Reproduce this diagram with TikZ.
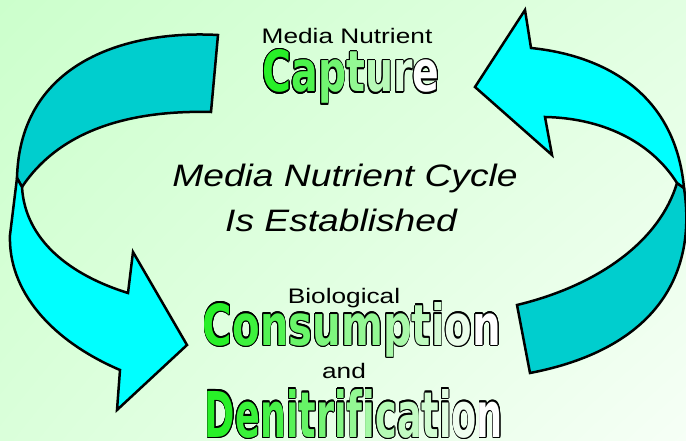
\documentclass[tikz,border=0pt]{standalone}
\usepackage{fontspec}
\setmainfont{Liberation Sans}
\newfontfamily\wordfont{DejaVu Sans}
\usepackage{graphicx}
\usepackage[copies]{contour}
\usetikzlibrary{shadings}
\contourlength{1.3pt}

\definecolor{ribbonlight}{RGB}{0,255,255}
\definecolor{ribbondark}{RGB}{0,206,206}
\definecolor{wordgreen}{RGB}{40,240,40}
\definecolor{bgTL}{RGB}{204,255,204}
\definecolor{bgTR}{RGB}{226,255,226}
\definecolor{bgBL}{RGB}{218,255,218}
\definecolor{bgBR}{RGB}{246,255,246}

\newcommand\stretched[2][1.25]{\scalebox{#1}[1]{#2}}

% letters of a word go from green to white
\makeatletter
\newcount\gw@total
\newcount\gw@idx
\newcommand\gradword[1]{%
	\global\gw@total=0
	\@tfor\gw@c:=#1\do{\global\advance\gw@total by 1}%
	\global\gw@idx=0
	\@tfor\gw@c:=#1\do{%
		\pgfmathtruncatemacro\gw@pct{100-100*\the\gw@idx/(\the\gw@total-1)}%
		\textcolor{wordgreen!\gw@pct!white}{\contour{black}{\gw@c}}%
		\global\advance\gw@idx by 1}%
}
\makeatother

\begin{document}
\begin{tikzpicture}[x=1pt, y=-1pt, line cap=round,
	ribbon/.style={draw=black, line width=2.5pt, line join=miter},
	backside/.style={ribbon, fill=ribbondark},
	frontside/.style={ribbon, fill=ribbonlight},
	smalltext/.style={inner sep=0pt, anchor=base, font=\fontsize{21}{25}\selectfont},
	centretext/.style={inner sep=0pt, anchor=base, font=\fontsize{31}{36}\selectfont\itshape},
	bigword/.style={inner sep=0pt, anchor=base, font=\wordfont\bfseries\fontsize{60}{66}\selectfont}]
	
	% Background
	\useasboundingbox (0,0) rectangle (686,441);
	\shade[upper left=bgTL, upper right=bgTR, lower left=bgBL, lower right=bgBR] (0,0) rectangle (686,441);
	
	% Left arrow
	\draw[backside] (218,35) .. controls (130,30) and (20,60) .. (17,178)
		-- (22,187) .. controls (60,130) and (130,110) .. (211,112) -- cycle;
	\draw[frontside] (17,178) -- (10,235) .. controls (8,290) and (50,340) .. (120,370)
		-- (117,410) -- (187,345) -- (133,252) -- (128,293)
		.. controls (70,275) and (25,240) .. (22,187) -- cycle;
	
	% Right arrow
	\draw[backside] (677,183) -- (684,188) .. controls (698,280) and (650,350) .. (530,373)
		-- (517,305) .. controls (600,285) and (660,240) .. (677,183) -- cycle;
	\draw[frontside] (475,87) -- (525,10) -- (531,48) .. controls (600,55) and (675,90) .. (684,188)
		-- (677,183) .. controls (650,140) and (600,118) .. (545,117) -- (552,155) -- cycle;
	
	% Nodes
	\node[smalltext] (mediatop) at (347,44) {\stretched{Media Nutrient}};
	\node[bigword] (capture) at (351,92) {\resizebox{177pt}{42pt}{\gradword{Capture}}};
	
	\node[centretext] (cycle) at (345,187) {\stretched[1.2]{Media Nutrient Cycle}};
	\node[centretext] (established) at (341,232) {\stretched[1.2]{Is Established}};
	
	\node[smalltext] (biological) at (344,303) {\stretched{Biological}};
	\node[bigword] (consumption) at (352,345) {\resizebox{298pt}{43pt}{\gradword{Consumption}}};
	\node[smalltext] (and) at (344,378) {\stretched{and}};
	\node[bigword] (denitrification) at (354,437) {\resizebox{298pt}{48pt}{\gradword{Denitrification}}};
\end{tikzpicture}
\end{document}
